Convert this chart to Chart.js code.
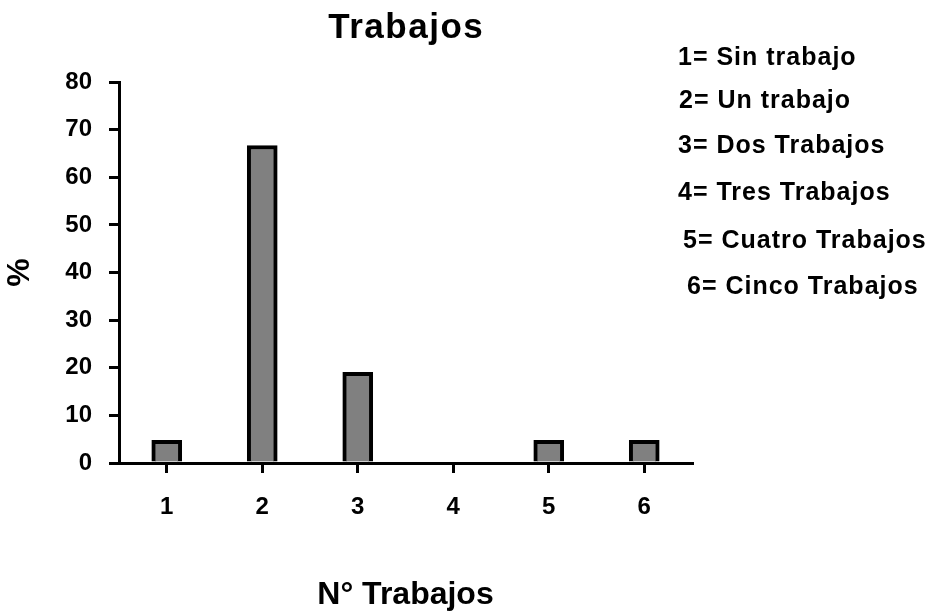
<!DOCTYPE html>
<html><head><meta charset="utf-8">
<script src="https://cdn.jsdelivr.net/npm/chart.js@4"></script>
<style>html,body{margin:0;padding:0;background:#fff}#wrap{width:934px;height:612px;position:relative}</style>
</head><body><div id="wrap"><canvas id="c"></canvas></div>
<script>
// ---- data ----
const categories = ['1', '2', '3', '4', '5', '6'];
const percentages = [4.76, 66.67, 19.05, 0, 4.76, 4.76];
const yTickValues = [0, 10, 20, 30, 40, 50, 60, 70, 80];
const chartTitle = 'Trabajos';
const xTitle = 'N° Trabajos';
const yTitle = '%';
const noteLines = ['1= Sin trabajo', '2= Un trabajo', '3= Dos Trabajos', '4= Tres Trabajos', '5= Cuatro Trabajos', '6= Cinco Trabajos'];

// ---- layout ----
const FONT = '"Liberation Sans", Arial, Helvetica, sans-serif';
const NOTE_X = [678, 679, 678, 678, 683, 687];
const NOTE_Y = [65, 108, 153, 200, 248, 294];

const textPlugin = {
  id: 'texts',
  afterDraw(chart) {
    const ctx = chart.ctx;
    ctx.save();
    ctx.fillStyle = '#000';
    ctx.textBaseline = 'alphabetic';
    ctx.textAlign = 'left';
    ctx.font = 'bold 35px ' + FONT;
    ctx.letterSpacing = '1.5px';
    const w = ctx.measureText(chartTitle).width - 1.5;
    const cx = (chart.chartArea.left + chart.chartArea.right) / 2;
    ctx.fillText(chartTitle, cx - w / 2, 38);
    ctx.font = 'bold 25px ' + FONT;
    ctx.letterSpacing = '1px';
    noteLines.forEach((t, i) => ctx.fillText(t, NOTE_X[i], NOTE_Y[i]));
    ctx.restore();
  }
};

const tickFont = {family: FONT, size: 24, weight: 'bold'};
const titleFont = {family: FONT, size: 32, weight: 'bold', lineHeight: 1};

new Chart(document.getElementById('c'), {
  type: 'bar',
  data: {
    labels: categories,
    datasets: [{
      data: percentages,
      backgroundColor: '#808080',
      borderColor: '#000',
      borderWidth: 4,
      borderSkipped: 'bottom',
      barThickness: 30
    }]
  },
  options: {
    responsive: true,
    maintainAspectRatio: false,
    animation: false,
    layout: {padding: {top: 82, right: 242, bottom: 0, left: 0}},
    plugins: {legend: {display: false}, tooltip: {enabled: false}, title: {display: false}},
    scales: {
      x: {
        grid: {offset: false, drawOnChartArea: false, drawTicks: true, tickLength: 10, color: '#000', lineWidth: 3},
        border: {color: '#000', width: 3},
        ticks: {color: '#000', font: tickFont, padding: 20, maxRotation: 0},
        title: {display: true, text: xTitle, color: '#000', font: titleFont, padding: {top: 0, bottom: 1}},
        afterFit(s) { s.height = 149; }
      },
      y: {
        min: 0, max: 80,
        afterBuildTicks(s) { s.ticks = yTickValues.map(v => ({value: v})); },
        grid: {drawOnChartArea: false, drawTicks: true, tickLength: 10, color: '#000', lineWidth: 3},
        border: {color: '#000', width: 3},
        ticks: {color: '#000', font: tickFont, padding: 17},
        title: {display: true, text: yTitle, color: '#000', font: titleFont, padding: {top: 4, bottom: 0}},
        afterFit(s) { s.width = 119; }
      }
    }
  },
  plugins: [textPlugin]
});
</script></body></html>
